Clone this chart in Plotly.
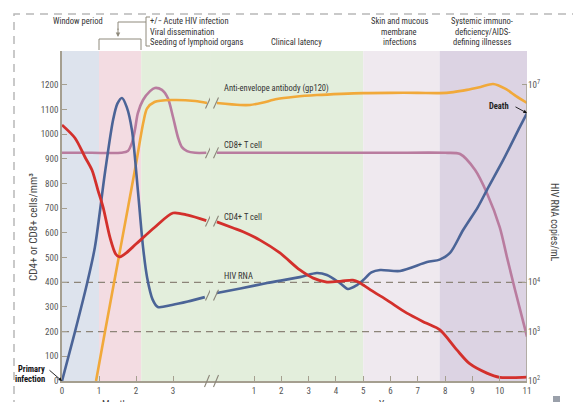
import plotly.graph_objects as go

# ---------------- data ----------------
month_ticks = [0, 1, 2, 3]
year_ticks = [1, 2, 3, 4, 5, 6, 7, 8, 9, 10, 11]
cell_ticks = list(range(0, 1300, 100))
rna_tick_pos = [0, 200, 400, 1200]
rna_tick_text = ["10<sup>2</sup>", "10<sup>3</sup>", "10<sup>4</sup>", "10<sup>7</sup>"]

cd4_m_x = [0, 0.35, 0.62, 0.81, 0.97, 1.11, 1.3, 1.45, 1.55, 1.7, 2.0, 2.5, 3.0, 3.4, 3.9]
cd4_m_y = [1038, 985, 908, 855, 774, 705, 580, 515, 503, 515, 555, 622, 681, 672, 650]
cd4_y_x = [-0.36, 0.24, 0.6, 1.22, 1.95, 2.68, 3.17, 3.67, 4.2, 4.62, 4.85, 5.0, 5.4, 5.87, 6.6, 7.3, 7.81, 8.43, 8.9, 9.53, 10.0, 10.5, 11]
cd4_y_y = [645, 620, 605, 571, 519, 450, 417, 401, 405, 409, 400, 389, 360, 328, 275, 235, 207, 126, 70, 32, 15, 14, 16]

cd8_m_x = [0, 0.8, 1.6, 1.78, 1.89, 1.97, 2.05, 2.19, 2.38, 2.51, 2.7, 2.86, 3.0, 3.14, 3.24, 3.38, 3.6, 3.9]
cd8_m_y = [925, 925, 925, 932, 965, 1017, 1086, 1139, 1175, 1188, 1180, 1147, 1070, 985, 948, 932, 925, 925]
cd8_y_x = [-0.36, 2, 4, 6, 8, 8.55, 9.1, 9.53, 10.0, 10.27, 10.56, 11]
cd8_y_y = [925, 925, 925, 925, 925, 920, 855, 762, 624, 500, 370, 180]

ab_m_x = [0.92, 1.16, 1.62, 2.0, 2.2, 2.3, 2.5, 2.97, 3.6, 3.92]
ab_m_y = [0, 199, 571, 880, 1050, 1105, 1131, 1139, 1135, 1127]
ab_y_x = [-0.36, 0.49, 0.85, 1.3, 1.84, 2.5, 3.3, 4.2, 5.0, 6, 7, 7.8, 8.3, 8.8, 9.3, 9.76, 10.2, 10.6, 11]
ab_y_y = [1127, 1119, 1119, 1128, 1143, 1152, 1159, 1164, 1167, 1168, 1168, 1167, 1171, 1180, 1192, 1204, 1185, 1155, 1127]

rna_m_x = [0, 0.35, 0.68, 0.89, 1.16, 1.38, 1.5, 1.62, 1.75, 1.89, 2.05, 2.19, 2.3, 2.45, 2.59, 2.97, 3.4, 3.86]
rna_m_y = [0, 199, 397, 543, 843, 1058, 1125, 1147, 1110, 1017, 774, 543, 420, 330, 300, 308, 322, 340]
rna_y_x = [-0.36, 0.5, 1.48, 2.68, 3.3, 3.67, 4.15, 4.44, 4.77, 5.0, 5.3, 5.62, 6.35, 7.34, 7.8, 8.18, 8.66, 9.2, 9.53, 10.13, 10.74, 11]
rna_y_y = [357, 375, 397, 421, 438, 430, 397, 373, 389, 409, 440, 450, 446, 482, 492, 519, 612, 705, 774, 896, 1030, 1086]

# phases: (axis, start, end, color)
phases = [
    ("x", 0, 1, "#dde3ed"),
    ("x", 1, 2.14, "#f3dce2"),
    ("x", 2.14, 4.0, "#e3eedc"),
    ("x2", -0.61, 5.0, "#e3eedc"),
    ("x2", 5.0, 7.8, "#efe9ef"),
    ("x2", 7.8, 11, "#dcd3e3"),
]

# ---------------- style ----------------
FONT = "Liberation Sans Narrow, Arial Narrow, Roboto Condensed, DejaVu Sans Condensed, Liberation Sans, sans-serif"
RED = "#d3302c"
BLUE = "#4b6497"
ORANGE = "#f1a93a"
MAUVE = "#b97c9f"
AXIS = "#a59f90"
DASH = "#8c8478"
TXT = "#333333"

OFF = 8  # default page body margin
L, R, T, B = 62, 527, 51, 381
W, H = 581, 402
def PX(x):
    return (x - L) / (R - L)
def PY(y):
    return (B - y) / (B - T)

split = PX(210)
m_range = [0, (210 - L) / 37.0]
y_range = [(210 - 226.7) / 27.3, 11]
cell_range = [0, (B - T) / 0.2467]

fig = go.Figure()

def line(xs, ys, color, xa, width=2.6):
    fig.add_trace(go.Scatter(x=xs, y=ys, mode="lines", xaxis=xa, yaxis="y",
                             line=dict(color=color, width=width, shape="spline", smoothing=0.8),
                             hoverinfo="skip", showlegend=False))

line(cd8_m_x, cd8_m_y, MAUVE, "x")
line(cd8_y_x, cd8_y_y, MAUVE, "x2")
line(ab_m_x, ab_m_y, ORANGE, "x")
line(ab_y_x, ab_y_y, ORANGE, "x2")
line(rna_m_x, rna_m_y, BLUE, "x")
line(rna_y_x, rna_y_y, BLUE, "x2")
line(cd4_m_x, cd4_m_y, RED, "x", 2.8)
line(cd4_y_x, cd4_y_y, RED, "x2", 2.8)
# invisible trace for the right axis
fig.add_trace(go.Scatter(x=[5], y=[0], xaxis="x2", yaxis="y2", mode="markers",
                         marker=dict(opacity=0), hoverinfo="skip", showlegend=False))

shapes = []
for ax, a, b, c in phases:
    shapes.append(dict(type="rect", xref=ax, yref="paper", x0=a, x1=b, y0=0, y1=1,
                       fillcolor=c, line=dict(width=0), layer="below"))
for v in [200, 400]:
    shapes.append(dict(type="line", xref="paper", yref="y", x0=0, x1=1, y0=v, y1=v,
                       line=dict(color=DASH, width=1.3, dash="7px,5px"), layer="below"))
# right axis line
shapes.append(dict(type="line", xref="x2", yref="y", x0=11, x1=11, y0=0, y1=1200,
                   line=dict(color=AXIS, width=1.5)))
# break marks on curves
break_vals = [1127, 925, 648, 348]
for v in break_vals:
    for ax, xc, hw in [("x", (208 - L) / 37.0, 2.5 / 37.0), ("x2", (216 - 226.7) / 27.3, 2.5 / 27.3)]:
        shapes.append(dict(type="line", xref=ax, yref="y", x0=xc - hw, x1=xc + hw,
                           y0=v - 22, y1=v + 22, line=dict(color="#8a8478", width=1.1)))
# break marks on x axis
for xp in [207, 216]:
    shapes.append(dict(type="line", xref="paper", yref="paper", x0=PX(xp - 2.5), x1=PX(xp + 2.5),
                       y0=PY(387), y1=PY(375), line=dict(color="#8a8478", width=1.1)))
# bracket over acute phase
shapes.append(dict(type="path", xref="paper", yref="paper",
                   path=f"M {PX(99)} {PY(50)} L {PX(99)} {PY(39)} L {PX(141)} {PY(39)} L {PX(141)} {PY(50)}",
                   line=dict(color="#8f8a7c", width=1)))
shapes.append(dict(type="path", xref="paper", yref="paper",
                   path=f"M {PX(150)} {PY(17)} L {PX(146)} {PY(17)} L {PX(146)} {PY(46)} L {PX(150)} {PY(46)}",
                   line=dict(color="#8f8a7c", width=1)))
shapes.append(dict(type="path", xref="paper", yref="paper",
                   path=f"M {PX(146)} {PY(22)} L {PX(118)} {PY(22)} L {PX(118)} {PY(30)}",
                   line=dict(color="#8f8a7c", width=1)))
# dashed page frame
shapes.append(dict(type="rect", xref="paper", yref="paper", x0=PX(14), x1=PX(574), y0=PY(440), y1=PY(14),
                   line=dict(color="#b8b8b8", width=1.5, dash="8px,6px"), fillcolor="rgba(0,0,0,0)"))
# small icon bottom right
shapes.append(dict(type="rect", xref="paper", yref="paper", x0=PX(553), x1=PX(560), y0=PY(402), y1=PY(396),
                   line=dict(width=0), fillcolor="#9aa0aa"))

ann = []
def text(s, x, y, size=8.5, xanchor="center", color=TXT, bold=False, angle=0):
    ann.append(dict(text=("<b>%s</b>" % s) if bold else s, xref="paper", yref="paper",
                    x=PX(x), y=PY(y), xanchor=xanchor, yanchor="middle", showarrow=False,
                    textangle=angle, font=dict(family=FONT, size=size, color=color)))

text("Window period", 78, 21)
text("+/\u2212 Acute HIV infection", 148, 21, xanchor="left")
text("Viral dissemination", 148, 31.5, xanchor="left")
text("Seeding of lymphoid organs", 148, 42, xanchor="left")
text("Clinical latency", 296, 42)
text("Skin and mucous", 399, 21)
text("membrane", 399, 31.5)
text("infections", 399, 42)
text("Systemic immuno-", 482, 21)
text("deficiency/AIDS-", 482, 31.5)
text("defining illnesses", 482, 42)

text("Anti-envelope antibody (gp120)", 222, 89, xanchor="left")
text("CD8+ T cell", 222, 145, xanchor="left")
text("CD4+ T cell", 222, 217, xanchor="left")
text("HIV RNA", 222, 276, xanchor="left")
text("Death", 499, 106, color="#222", bold=True, size=8.5)
text("Primary", 47, 369, xanchor="right", color="#111", bold=True, size=8.5)
text("infection", 47, 379, xanchor="right", color="#111", bold=True, size=8.5)

text("CD4+ or CD8+ cells/mm\u00b3", 33, 227, size=11, angle=-90, color="#444")
text("HIV RNA copies/mL", 555, 222, size=10, angle=90, color="#444")
text("Months", 117, 404, size=10, color="#444")
text("Years", 390, 404, size=10, color="#444")

# arrows
ann.append(dict(text="", xref="paper", yref="paper", x=PX(118), y=PY(37), ax=0, ay=-10,
                showarrow=True, arrowhead=2, arrowsize=0.9, arrowwidth=1, arrowcolor="#8f8a7c"))
ann.append(dict(text="", xref="x2", yref="y", x=11, y=1086, ax=-13, ay=-7, axref="pixel", ayref="pixel",
                showarrow=True, arrowhead=2, arrowsize=0.8, arrowwidth=0.9, arrowcolor="#111"))
ann.append(dict(text="", xref="x", yref="y", x=0, y=0, ax=-14, ay=-12,
                showarrow=True, arrowhead=2, arrowsize=0.8, arrowwidth=0.9, arrowcolor="#111"))

tickfont = dict(family=FONT, size=9, color="#555")
common = dict(showgrid=False, zeroline=False, automargin=False, fixedrange=True, tickfont=tickfont,
              ticks="inside", ticklen=5, tickcolor=AXIS)
fig.update_layout(
    width=W - OFF, height=H - OFF,
    autosize=False,
    margin=dict(l=L - OFF, r=W - R, t=T - OFF, b=H - B, pad=0, autoexpand=False),
    paper_bgcolor="white", plot_bgcolor="white",
    font=dict(family=FONT, size=9, color=TXT),
    showlegend=False,
    xaxis=dict(domain=[0, split], range=m_range, tickvals=month_ticks,
               showline=True, linecolor=AXIS, linewidth=1.5, anchor="y", **common),
    xaxis2=dict(domain=[split, 1], range=y_range, tickvals=year_ticks,
                showline=True, linecolor=AXIS, linewidth=1.5, anchor="y", **common),
    yaxis=dict(range=cell_range, tickvals=cell_ticks,
               showline=True, linecolor=AXIS, linewidth=1.5, anchor="x", **common),
    yaxis2=dict(range=cell_range, tickvals=rna_tick_pos, ticktext=rna_tick_text,
                showline=False, overlaying="y", side="right", anchor="x2", **common),
    shapes=shapes,
    annotations=ann,
)

fig.write_html("out.html")
